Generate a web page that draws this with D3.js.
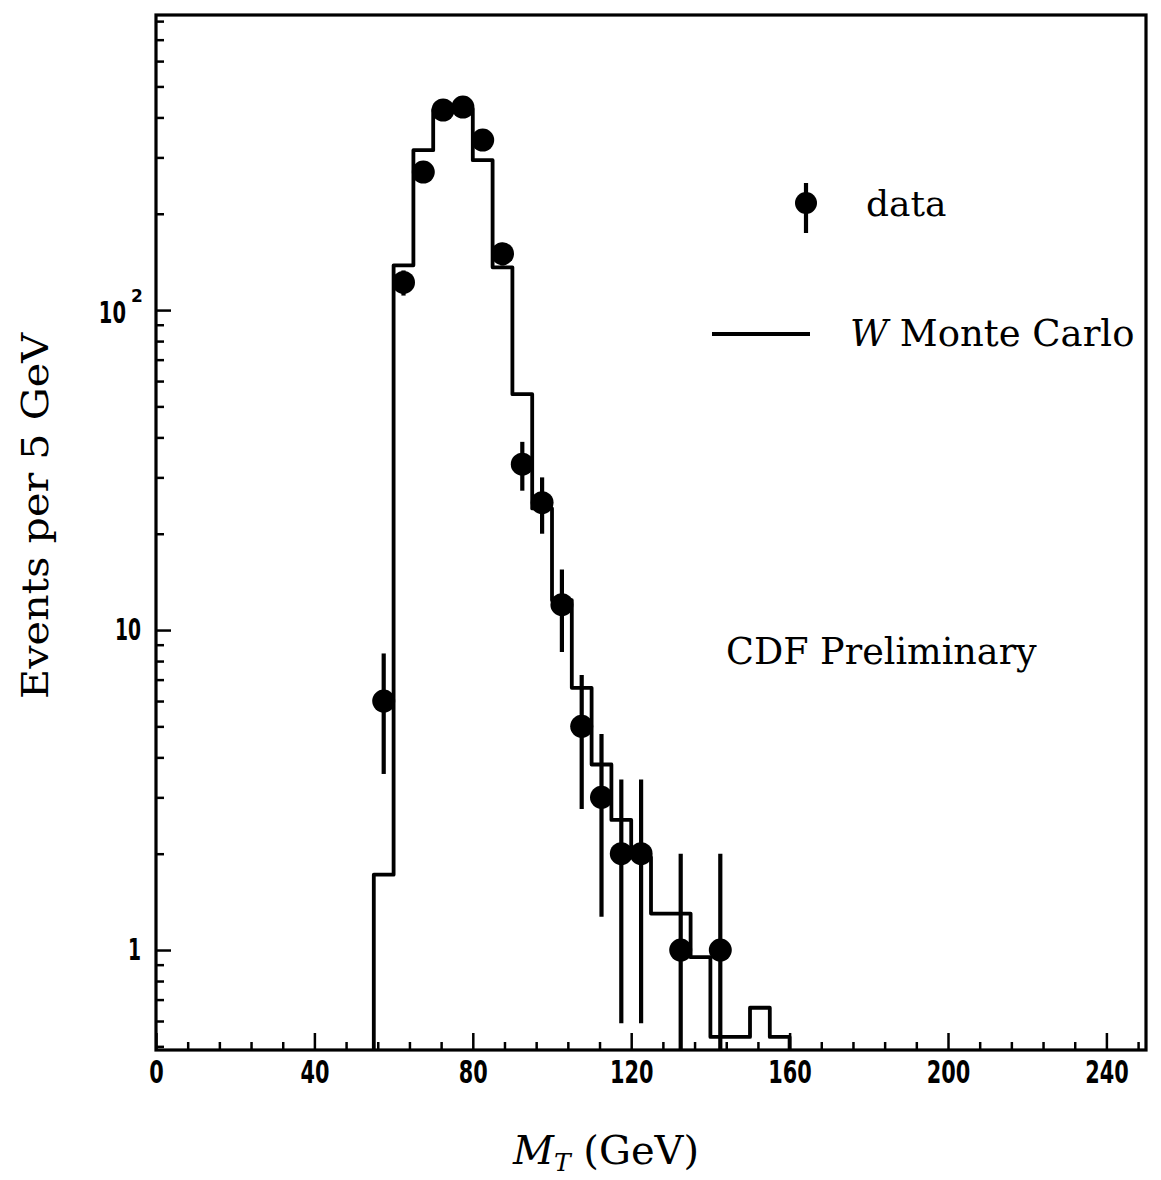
<!DOCTYPE html>
<html>
<head>
<meta charset="utf-8">
<script src="https://cdn.jsdelivr.net/npm/d3@7"></script>
<style>
  body { margin: 0; background: #fff; }
  .tick text, .ylab { font-family: "DejaVu Sans", "Liberation Sans", sans-serif; font-weight: bold; fill: #000; }
  .serif { font-family: "DejaVu Serif", "Liberation Serif", serif; fill: #000; }
</style>
</head>
<body>
<svg id="chart" width="1161" height="1180"></svg>
<script>
// W Monte Carlo prediction: 5 GeV bins from 55 to 160 GeV
const mcEdges = [55, 60, 65, 70, 75, 80, 85, 90, 95, 100, 105, 110, 115, 120, 125, 130, 135, 140, 145, 150, 155, 160];
const mcValues = [1.72, 138, 316, 422, 425, 294, 136, 54.6, 24, 12.4, 6.6, 3.8, 2.55, 1.95, 1.3, 1.3, 0.95, 0.535, 0.535, 0.66, 0.535];

// Observed events (bin centres, counts, statistical errors)
const dataMT = [57.5, 62.5, 67.5, 72.5, 77.5, 82.5, 87.5, 92.5, 97.5, 102.5, 107.5, 112.5, 117.5, 122.5, 132.5, 142.5];
const dataCounts = [6, 122, 270, 422, 431, 340, 150, 33, 25, 12, 5, 3, 2, 2, 1, 1];
const dataErr = [2.45, 11.0, 16.4, 20.5, 20.8, 18.4, 12.2, 5.74, 5.0, 3.46, 2.24, 1.73, 1.41, 1.41, 1.0, 1.0];

// Axis ticks
const xMajorTicks = [0, 40, 80, 120, 160, 200, 240];
const xMinorTicks = [8, 16, 24, 32, 48, 56, 64, 72, 88, 96, 104, 112, 128, 136, 144, 152, 168, 176, 184, 192, 208, 216, 224, 232, 248];
const yLabelledTicks = [1, 10];
const yPowerTick = 100;
const yMinorTicks = [0.5, 0.6, 0.7, 0.8, 0.9, 2, 3, 4, 5, 6, 7, 8, 9, 20, 30, 40, 50, 60, 70, 80, 90, 200, 300, 400, 500, 600, 700, 800];

const svg = d3.select("#chart");
const plotLeft = 156, plotRight = 1146, plotTop = 15, plotBottom = 1050;

const x = d3.scaleLinear().domain([0, 250]).range([plotLeft, plotRight]);
const y = d3.scaleLog().domain([0.487, 836]).range([plotBottom, plotTop]);
const yMin = y.domain()[0];

// narrow, heavy digits for the tick labels
const squeeze = (sel, perChar) => sel
  .attr("textLength", function () { return this.textContent.length * perChar; })
  .attr("lengthAdjust", "spacingAndGlyphs");

// Minor ticks (no labels)
svg.append("g")
  .attr("transform", `translate(0,${plotBottom})`)
  .call(d3.axisBottom(x).tickValues(xMinorTicks).tickSize(-8).tickFormat(""))
  .call(g => g.select(".domain").remove())
  .call(g => g.selectAll("line").attr("stroke", "#000").attr("stroke-width", 2.5));

svg.append("g")
  .attr("transform", `translate(${plotLeft},0)`)
  .call(d3.axisLeft(y).tickValues(yMinorTicks).tickSize(-8).tickFormat(""))
  .call(g => g.select(".domain").remove())
  .call(g => g.selectAll("line").attr("stroke", "#000").attr("stroke-width", 2.5));

// Major ticks with labels
svg.append("g")
  .attr("transform", `translate(0,${plotBottom})`)
  .call(d3.axisBottom(x).tickValues(xMajorTicks).tickSize(-17).tickPadding(10).tickFormat(d3.format("d")))
  .call(g => g.select(".domain").remove())
  .call(g => g.selectAll("line").attr("stroke", "#000").attr("stroke-width", 2.5))
  .call(g => g.selectAll("text").attr("font-size", 32).call(squeeze, 14.5));

svg.append("g")
  .attr("transform", `translate(${plotLeft},0)`)
  .call(d3.axisLeft(y).tickValues(yLabelledTicks).tickSize(-15).tickPadding(15).tickFormat(d => String(d)))
  .call(g => g.select(".domain").remove())
  .call(g => g.selectAll("line").attr("stroke", "#000").attr("stroke-width", 2.5))
  .call(g => g.selectAll("text").attr("font-size", 30).call(squeeze, 13));

// 10^2 tick, written as a base with a raised exponent
svg.append("g")
  .attr("transform", `translate(${plotLeft},0)`)
  .call(d3.axisLeft(y).tickValues([yPowerTick]).tickSize(-15).tickFormat(""))
  .call(g => g.select(".domain").remove())
  .call(g => g.selectAll("line").attr("stroke", "#000").attr("stroke-width", 2.5));
svg.append("text").attr("class", "ylab")
  .attr("transform", `translate(126,${y(yPowerTick) + 13}) scale(0.65,1)`)
  .attr("text-anchor", "end").attr("font-size", 30)
  .text("10");
svg.append("text").attr("class", "ylab")
  .attr("x", 131).attr("y", y(yPowerTick) - 8)
  .attr("font-size", 17)
  .text(String(Math.log10(yPowerTick)));

// Frame
svg.append("rect")
  .attr("x", plotLeft).attr("y", plotTop)
  .attr("width", plotRight - plotLeft).attr("height", plotBottom - plotTop)
  .attr("fill", "none").attr("stroke", "#000").attr("stroke-width", 3.2);

// Monte Carlo histogram as a step outline
const steps = [[mcEdges[0], yMin]];
mcValues.forEach((v, i) => {
  steps.push([mcEdges[i], v]);
  steps.push([mcEdges[i + 1], v]);
});
steps.push([mcEdges[mcEdges.length - 1], yMin]);

svg.append("path")
  .datum(steps)
  .attr("fill", "none")
  .attr("stroke", "#000")
  .attr("stroke-width", 3.8)
  .attr("stroke-linejoin", "round")
  .attr("d", d3.line().x(d => x(d[0])).y(d => y(d[1])));

// Data points with error bars
const pts = dataMT.map((m, i) => ({ m, n: dataCounts[i], e: dataErr[i] }));
const gData = svg.append("g");
gData.selectAll("line.err")
  .data(pts)
  .join("line")
  .attr("class", "err")
  .attr("x1", d => x(d.m)).attr("x2", d => x(d.m))
  .attr("y1", d => y(d.n + d.e))
  .attr("y2", d => y(Math.max(d.n - d.e, yMin)))
  .attr("stroke", "#000").attr("stroke-width", 4.2);
gData.selectAll("circle")
  .data(pts)
  .join("circle")
  .attr("cx", d => x(d.m)).attr("cy", d => y(d.n))
  .attr("r", 11.5)
  .attr("fill", "#000");

// Legend
const lg = svg.append("g");
lg.append("line").attr("x1", 806).attr("x2", 806).attr("y1", 183).attr("y2", 233)
  .attr("stroke", "#000").attr("stroke-width", 4.2);
lg.append("circle").attr("cx", 806).attr("cy", 203).attr("r", 11).attr("fill", "#000");
lg.append("text").attr("class", "serif").attr("x", 866).attr("y", 216)
  .attr("font-size", 36).text("data");

lg.append("line").attr("x1", 712).attr("x2", 810).attr("y1", 334).attr("y2", 334)
  .attr("stroke", "#000").attr("stroke-width", 3.8);
const mcLabel = lg.append("text").attr("class", "serif").attr("x", 850).attr("y", 346)
  .attr("font-size", 37);
mcLabel.append("tspan").attr("font-style", "italic").text("W");
mcLabel.append("tspan").text(" Monte Carlo");

// Annotation
svg.append("text").attr("class", "serif").attr("x", 726).attr("y", 664)
  .attr("font-size", 36.5).text("CDF Preliminary");

// Axis titles
const xt = svg.append("text").attr("class", "serif")
  .attr("x", 606).attr("y", 1164).attr("text-anchor", "middle").attr("font-size", 40);
xt.append("tspan").attr("font-style", "italic").text("M");
xt.append("tspan").attr("font-style", "italic").attr("font-size", 25).attr("dy", 7).text("T");
xt.append("tspan").attr("dy", -7).text(" (GeV)");

svg.append("text").attr("class", "serif")
  .attr("transform", "translate(48,516) rotate(-90)")
  .attr("text-anchor", "middle").attr("font-size", 38)
  .attr("textLength", 366).attr("lengthAdjust", "spacingAndGlyphs")
  .text("Events per 5 GeV");
</script>
</body>
</html>
